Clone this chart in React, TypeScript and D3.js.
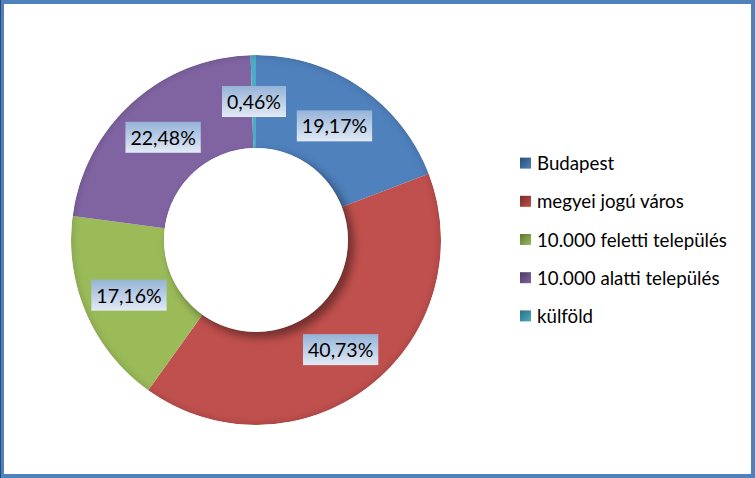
import React, { useEffect, useRef } from "react";
import * as d3 from "d3";

const categories = ["Budapest", "megyei jogú város", "10.000 feletti település", "10.000 alatti település", "külföld"];
const values = [19.17, 40.73, 17.16, 22.48, 0.46];
const labels = ["19,17%", "40,73%", "17,16%", "22,48%", "0,46%"];
const colors = ["#4F81BD", "#C0504D", "#9BBB59", "#8064A2", "#4BACC6"];
const darkColors = ["#2C4D75", "#772C2A", "#5F7530", "#4D3B62", "#2C6F81"];

const W = 755;
const H = 478;

export default function App() {
  const ref = useRef<SVGSVGElement>(null);
  useEffect(() => {
    const svg = d3.select(ref.current);
    svg.selectAll("*").remove();
    const defs = svg.append("defs");

    // frame
    svg.append("rect").attr("x", 0).attr("y", 0).attr("width", W).attr("height", H).attr("fill", "#4F81BD");
    svg.append("rect").attr("x", 4).attr("y", 4).attr("width", W - 8).attr("height", H - 8).attr("fill", "#FFFFFF");
    svg.append("line").attr("x1", 0.5).attr("y1", 0).attr("x2", 0.5).attr("y2", H).attr("stroke", "#2A4A70").attr("stroke-width", 1);

    const cx = 256, cy = 240, rOuter = 185, rInner = 92;

    const blur = defs.append("filter").attr("id", "blur").attr("x", "-20%").attr("y", "-20%").attr("width", "140%").attr("height", "140%");
    blur.append("feGaussianBlur").attr("stdDeviation", 4);

    const pie = d3.pie<number>().value((d) => d).sort(null);
    const arcs = pie(values);
    const arc = d3.arc<d3.PieArcDatum<number>>().innerRadius(rInner).outerRadius(rOuter);
    const labelArc = d3.arc<d3.PieArcDatum<number>>().innerRadius((rInner + rOuter) / 2).outerRadius((rInner + rOuter) / 2);

    const g = svg.append("g").attr("transform", `translate(${cx},${cy})`);
    const clip = defs.append("clipPath").attr("id", "ringclip");
    clip.append("circle").attr("r", rOuter);

    const ring = g.append("g").attr("clip-path", "url(#ringclip)");
    ring.selectAll("path.slice")
      .data(arcs)
      .join("path")
      .attr("class", "slice")
      .attr("d", arc)
      .attr("fill", (_d, i) => colors[i]);

    // outer edge shading
    ring.append("circle").attr("r", rOuter + 3).attr("fill", "none")
      .attr("stroke", "#000").attr("stroke-opacity", 0.22).attr("stroke-width", 6).attr("filter", "url(#blur)");
    // inner shadow from hole
    ring.append("circle").attr("cx", 5).attr("cy", 5).attr("r", rInner + 1).attr("fill", "#000").attr("fill-opacity", 0.4).attr("filter", "url(#blur)");
    g.append("circle").attr("r", rInner).attr("fill", "#FFFFFF");

    // label gradient
    const lg = defs.append("linearGradient").attr("id", "lblg").attr("x1", 0).attr("y1", 0).attr("x2", 0).attr("y2", 1);
    lg.append("stop").attr("offset", "0%").attr("stop-color", "#95B3D7");
    lg.append("stop").attr("offset", "100%").attr("stop-color", "#E2EAF5");

    const lblG = g.append("g");
    arcs.forEach((a, i) => {
      const [x, y] = labelArc.centroid(a);
      const lgg = lblG.append("g").attr("transform", `translate(${x},${y})`);
      const rect = lgg.append("rect").attr("fill", "url(#lblg)");
      const t = lgg.append("text")
        .attr("text-anchor", "middle")
        .attr("dominant-baseline", "central")
        .attr("font-family", "Lato, 'Open Sans', sans-serif")
        .attr("font-size", 19.5)
        .attr("fill", "#000")
        .text(labels[i]);
      const bb = (t.node() as SVGTextElement).getBBox();
      const bw = bb.width + 10, bh = 31;
      rect.attr("x", -bw / 2).attr("y", -bh / 2).attr("width", bw).attr("height", bh);
    });

    // legend
    const legY = d3.scaleBand<string>().domain(categories).range([144, 335]).paddingInner(0);
    categories.forEach((c, i) => {
      const gid = `lg${i}`;
      const gr = defs.append("linearGradient").attr("id", gid).attr("x1", 0).attr("y1", 0).attr("x2", 1).attr("y2", 1);
      gr.append("stop").attr("offset", "0%").attr("stop-color", darkColors[i]);
      gr.append("stop").attr("offset", "100%").attr("stop-color", colors[i]);
      const yc = (legY(c) as number) + legY.bandwidth() / 2;
      svg.append("rect").attr("x", 520).attr("y", yc - 5.5).attr("width", 11).attr("height", 11).attr("fill", `url(#${gid})`);
      svg.append("text")
        .attr("x", 537)
        .attr("y", yc)
        .attr("dominant-baseline", "central")
        .attr("font-family", "Lato, 'Open Sans', sans-serif")
        .attr("font-size", 18.7)
        .attr("fill", "#000")
        .text(c);
    });
  }, []);
  return (
    <svg ref={ref} width={W} height={H} style={{ position: "absolute", left: 0, top: 0, display: "block" }} />
  );
}
